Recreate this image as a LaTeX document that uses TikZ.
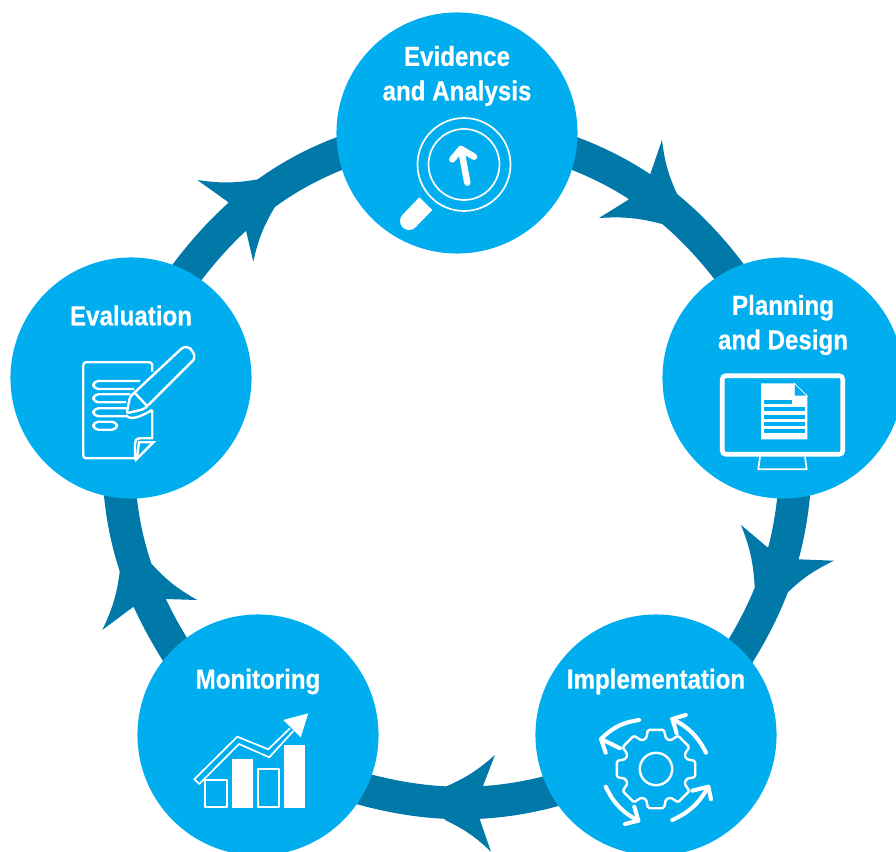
\documentclass[tikz,border=0pt]{standalone}
\usepackage{fontspec}
\usetikzlibrary{backgrounds}
\newfontfamily\labelfont[FakeStretch=0.88, BoldFeatures={FakeStretch=0.88,FakeBold=0.5}]{Liberation Sans}
\definecolor{stepblue}{HTML}{00AEEF}
\definecolor{ringblue}{HTML}{0078A8}
\begin{document}
\begin{tikzpicture}[
    x=0.025cm, y=-0.025cm,
    stepnode/.style={circle, fill=stepblue, minimum size=6.025cm, inner sep=0pt},
    steptext/.style={text=white, align=center, font=\labelfont\bfseries\fontsize{19.5}{24.5}\selectfont},
    ring/.style={draw=ringblue, line width=23.1pt, looseness=0.87, shorten <=-6pt, shorten >=-6pt},
    headedge/.style={bend left=9},
    iconline/.style={draw=white, line width=1.2pt, line join=round},
    noteline/.style={draw=white, line width=1.7pt, line join=round},
    iconthick/.style={draw=white, line width=2.9pt, line cap=round, line join=round}
]
\useasboundingbox (0,0) rectangle (896,852);

% Steps
\node[stepnode] (evidence) at (457,133) {};
\node[stepnode] (planning) at (783,378) {};
\node[stepnode] (implementation) at (656,735) {};
\node[stepnode] (monitoring) at (258,735) {};
\node[stepnode] (evaluation) at (131,378) {};

% Step texts
\node[steptext] (evidencetext) at (457,76) {Evidence\\and Analysis};
\node[steptext] (planningtext) at (783,325) {Planning\\and Design};
\node[steptext] (implementationtext) at (656,681.5) {Implementation};
\node[steptext] (monitoringtext) at (258,681.5) {Monitoring};
\node[steptext] (evaluationtext) at (131,315.5) {Evaluation};

% Ring
\begin{scope}[on background layer]
\draw[ring] (evidence.-10.9) to[out=-19.9, in=126.5] (planning.117.2);
\draw[ring] (planning.-85.8) to[out=-94.8, in=57.8] (implementation.45.4);
\draw[ring] (implementation.-152.7) to[out=-164.2, in=-15.8] (monitoring.-27.3);
\draw[ring] (monitoring.134.6) to[out=122.3, in=-85.1] (evaluation.265.8);
\draw[ring] (evaluation.62.8) to[out=53.7, in=-159.9] (evidence.190.9);
\end{scope}

% Arrowheads
\fill[ringblue] (662,140) -- (650,175) -- (628,200) -- (599,218) to[headedge] (662,224) -- (678,196) to[headedge] (662,140) -- cycle;
\fill[ringblue] (834,560.7) -- (798,559.3) -- (766.7,546.7) -- (741,525) to[headedge] (754.7,586.7) -- (786,594) to[headedge] (834,560.7) -- cycle;
\fill[ringblue] (491,851.7) -- (480,820) -- (482.7,786.7) -- (495,755) to[headedge] (443.3,787.7) -- (445,820) to[headedge] (491,851.7) -- cycle;
\fill[ringblue] (102.3,630) -- (132.7,607.3) -- (165,599) -- (197.3,600) to[headedge] (151.7,564) -- (120,570) to[headedge] (102.3,630) -- cycle;
\fill[ringblue] (197.3,180) -- (227.7,201.7) -- (246,230.7) -- (253.3,261.7) to[headedge] (275,206.7) -- (258.3,179.3) to[headedge] (197.3,180) -- cycle;

% Magnifier
\draw[iconline] (464,164.5) circle (46.5);
\draw[iconline] (464,164.5) circle (35.5);
\draw[white, line width=4.6pt, line cap=round, line join=round] (467.3,182.7) -- (461,149);
\draw[white, line width=4.6pt, line cap=round, line join=round] (452.3,159.3) -- (461,149) -- (474,156.7);
\fill[white] (419.3,197.3) -- (432.3,210) -- (415.4,227.4) arc (45:225:9) -- cycle;

% Monitor
\draw[white, line width=3.3pt, rounded corners=2.5pt] (722.3,375.7) rectangle (842.7,454.3);
\draw[iconline] (760,456.7) -- (758.3,469.3) -- (806.7,469.3) -- (805,456.7);
\fill[white] (761,383.3) -- (794.3,383.3) -- (807.3,396) -- (807.3,439.3) -- (761,439.3) -- cycle;
\filldraw[fill=stepblue, draw=white, line width=0.5pt] (794.3,383.3) -- (794.3,396) -- (807.3,396) -- cycle;
\fill[stepblue] (764,400) rectangle (792,404);
\foreach \ybar in {407,414.7,422,429}
    \fill[stepblue] (764,\ybar) rectangle (805,\ybar+4);

% Gear
\begin{scope}[shift={(656,769)}]
\draw[noteline] (0,0) circle (16.2);
\draw[noteline, rounded corners=1pt] (78.5:40)
    \foreach \a in {90,45,0,-45,-90,-135,-180,-225} {
        -- (\a-11.5:40) -- (\a-18:32) -- (\a-27:32) -- (\a-33.5:40)
    } -- cycle;
\end{scope}

% Gear arrows
\coordinate (gearA) at (639,720);
\coordinate (gearAtip) at (601,739);
\coordinate (gearB) at (706,752.7);
\coordinate (gearBtip) at (672.3,719);
\coordinate (gearC) at (672.3,820);
\coordinate (gearCtip) at (708.3,786.7);
\coordinate (gearD) at (605.7,786.7);
\coordinate (gearDtip) at (638.3,820.7);
\draw[iconthick] (gearA) to[bend right=18] (gearAtip);
\draw[iconthick] (620,748.3) -- (gearAtip) -- (605.7,752.7);
\draw[iconthick] (gearB) to[bend right=18] (gearBtip);
\draw[iconthick] (685.7,715) -- (gearBtip) -- (676.7,733.3);
\draw[iconthick] (gearC) to[bend right=18] (gearCtip);
\draw[iconthick] (692.3,790.7) -- (gearCtip) -- (711,799.3);
\draw[iconthick] (gearD) to[bend right=18] (gearDtip);
\draw[iconthick] (634.3,806.7) -- (gearDtip) -- (625,824);

% Chart
\fill[white] (232,759) rectangle (253,807.7);
\fill[white] (284,745) rectangle (305,807.7);
\draw[iconline] (205.3,780) rectangle (226.7,807.3);
\draw[iconline] (258,768.7) rectangle (279.3,807.3);
\draw[iconline] (293.3,731) -- (269.3,757.3) -- (239,744) -- (199.3,784) -- (194.3,779.3)
    -- (237.3,736.7) -- (268.3,749.3) -- (290,728.3);
\fill[white] (283.3,720) -- (308.3,713.3) -- (300.7,737.3) -- cycle;

% Note and pen
\draw[noteline, rounded corners=2pt] (152.3,371.7) -- (152.3,362.3) -- (83.3,362.3) -- (83.3,458.3) -- (135,458.3);
\draw[noteline] (152.3,410) -- (152.3,438.3) -- (140,438.3) .. controls (136,438.3) and (135,441) .. (135,444) -- (135,460);
\draw[noteline, line join=miter] (136.7,459) -- (153.3,442.3) -- (139,442.3) -- cycle;
\draw[noteline, rounded corners=3.5pt] (140,381) -- (93.3,381) -- (93.3,389) -- (134,389);
\draw[noteline, rounded corners=3.5pt] (130,394.3) -- (93.3,394.3) -- (93.3,402.3) -- (126,402.3);
\draw[noteline, rounded corners=3.5pt] (126.7,408.3) -- (93.3,408.3) -- (93.3,416.3) -- (126,416.3);
\draw[noteline, rounded corners=3.5pt] (93.3,421.7) rectangle (117,429.7);
\draw[noteline, rounded corners=1.5pt] (126.7,413.3) -- (130,396.7) -- (180,350)
    .. controls (185,345.5) and (190,348) .. (192,351)
    .. controls (195,355) and (194,359.5) .. (191.7,361.7) -- (144.3,409) -- cycle;
\draw[noteline] (134,392) -- (147,406);
\draw[noteline] (126,415) .. controls (130,421) and (140,417) .. (152.3,410);
\end{tikzpicture}
\end{document}
